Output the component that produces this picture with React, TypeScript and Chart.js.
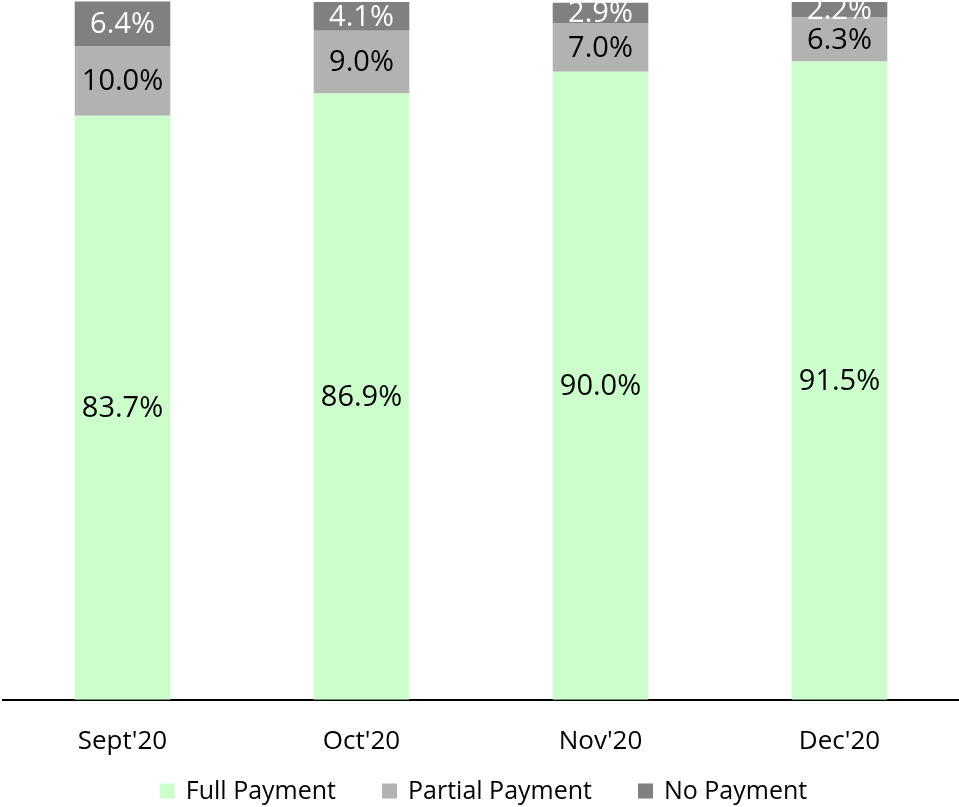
import React, { useEffect, useRef } from "react";
import { Chart, registerables } from "chart.js";

Chart.register(...registerables);

const categories = ["Sept'20", "Oct'20", "Nov'20", "Dec'20"];
const fullPayment = [83.7, 86.9, 90.0, 91.5];
const partialPayment = [10.0, 9.0, 7.0, 6.3];
const noPayment = [6.4, 4.1, 2.9, 2.2];

const FONT = "'Open Sans', 'Noto Sans', sans-serif";

const labelPlugin = {
  id: "segLabels",
  afterDatasetsDraw(chart: any) {
    const ctx = chart.ctx;
    ctx.save();
    ctx.font = `29px ${FONT}`;
    ctx.textAlign = "center";
    ctx.textBaseline = "middle";
    chart.data.datasets.forEach((ds: any, di: number) => {
      const meta = chart.getDatasetMeta(di);
      meta.data.forEach((bar: any, i: number) => {
        const v = ds.data[i];
        const yc = (bar.y + bar.base) / 2;
        ctx.fillStyle = di === 2 ? "#ffffff" : "#000000";
        ctx.fillText(v.toFixed(1) + "%", bar.x, yc + 1);
      });
    });
    ctx.restore();
  },
};

const legendPlugin = {
  id: "customLegend",
  afterDraw(chart: any) {
    const ctx = chart.ctx;
    ctx.save();
    ctx.font = `25px ${FONT}`;
    ctx.textBaseline = "middle";
    const box = 15;
    const gapText = 11;
    const gapItem = 46;
    const items = chart.data.datasets.map((ds: any) => ({
      label: ds.label,
      color: ds.backgroundColor,
      w: ctx.measureText(ds.label).width,
    }));
    const total =
      items.reduce((s: number, it: any) => s + box + gapText + it.w, 0) + gapItem * (items.length - 1);
    let x = chart.width / 2 + 4 - total / 2;
    const yc = 791;
    items.forEach((it: any) => {
      ctx.fillStyle = it.color;
      ctx.fillRect(x, yc - box / 2, box, box);
      x += box + gapText;
      ctx.fillStyle = "#000000";
      ctx.fillText(it.label, x, yc + 1);
      x += it.w + gapItem;
    });
    ctx.restore();
  },
};

export default function App() {
  const ref = useRef<HTMLCanvasElement | null>(null);
  useEffect(() => {
    if (!ref.current) return;
    const chart = new Chart(ref.current, {
      type: "bar",
      data: {
        labels: categories,
        datasets: [
          { label: "Full Payment", data: fullPayment, backgroundColor: "#CCFFCC" },
          { label: "Partial Payment", data: partialPayment, backgroundColor: "#B2B2B2" },
          { label: "No Payment", data: noPayment, backgroundColor: "#808080" },
        ],
      },
      options: {
        animation: false,
        responsive: false,
        maintainAspectRatio: false,
        layout: { padding: { left: 3, right: 0, top: 0, bottom: 24 } },
        datasets: { bar: { barPercentage: 0.4, categoryPercentage: 1 } },
        scales: {
          x: {
            stacked: true,
            grid: { display: false, drawTicks: false },
            border: { display: true, color: "#000000", width: 2 },
            ticks: { color: "#000000", font: { family: FONT, size: 26 }, padding: 26 },
          },
          y: {
            stacked: true,
            display: false,
            min: 0,
            max: 100.3,
          },
        },
        plugins: {
          legend: { display: false },
          tooltip: { enabled: false },
        },
      },
      plugins: [labelPlugin, legendPlugin],
    });
    return () => chart.destroy();
  }, []);
  return (
    <div style={{ position: "fixed", left: 0, top: 0, width: 959, height: 807, background: "#fff" }}>
      <canvas ref={ref} width={959} height={807} style={{ display: "block" }} />
    </div>
  );
}
